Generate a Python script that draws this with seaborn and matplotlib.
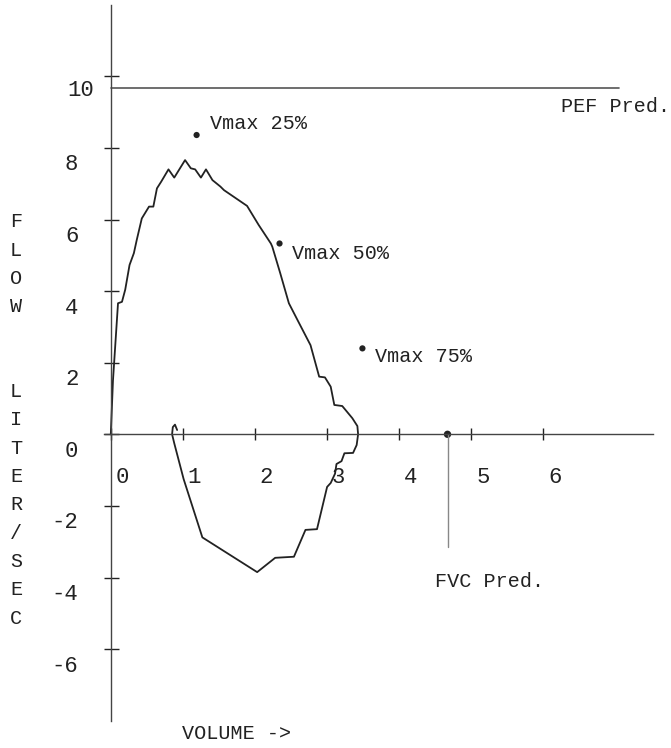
import matplotlib
matplotlib.use("Agg")
import matplotlib.pyplot as plt
import seaborn as sns
from matplotlib.transforms import ScaledTranslation

# flow-volume loop (volume in L, flow in L/s), expiration then inspiration
loop_volume = [0.00, 0.03, 0.10, 0.155, 0.20, 0.26, 0.32, 0.36, 0.43, 0.53, 0.59,
               0.64, 0.70, 0.80, 0.88, 1.03, 1.11, 1.17, 1.25, 1.32, 1.41, 1.52,
               1.57, 1.89, 2.05, 2.22, 2.24, 2.35, 2.47, 2.59, 2.77, 2.89, 2.97,
               3.05, 3.10, 3.21, 3.35, 3.42, 3.43, 3.41, 3.36, 3.24, 3.20, 3.13,
               3.11, 3.05, 3.00, 2.86, 2.70, 2.54, 2.28, 2.03, 1.27, 1.01, 0.88,
               0.85, 0.86, 0.89, 0.92]
loop_flow = [0.00, 1.50, 3.66, 3.70, 4.04, 4.73, 5.06, 5.43, 6.03, 6.36, 6.36,
             6.87, 7.06, 7.40, 7.17, 7.66, 7.43, 7.40, 7.17, 7.40, 7.10, 6.92,
             6.82, 6.38, 5.85, 5.33, 5.24, 4.50, 3.66, 3.19, 2.49, 1.61, 1.59,
             1.33, 0.82, 0.79, 0.45, 0.23, 0.00, -0.30, -0.52, -0.53, -0.75, -0.83,
             -1.10, -1.36, -1.47, -2.65, -2.67, -3.42, -3.45, -3.85, -2.88, -1.25, -0.25,
             0.00, 0.20, 0.27, 0.12]

vmax_names = ["Vmax 25%", "Vmax 50%", "Vmax 75%"]
vmax_volume = [1.19, 2.34, 3.49]
vmax_flow = [8.36, 5.33, 2.40]

pef_pred = 9.66
fvc_pred = 4.67

x_ticks = [0, 1, 2, 3, 4, 5, 6]
x_labels = ["0", "1", "2", "3", "4", "5", "6"]
y_ticks = [-6, -4, -2, 0, 2, 4, 6, 8, 10]
y_labels = ["-6", "-4", "-2", "0", "2", "4", "6", "8", "10"]

sns.set_theme(style="white")
plt.rcParams["font.family"] = ["Liberation Mono", "DejaVu Sans"]

W, H, DPI = 671, 748, 100
# pixel position of the origin and pixels per unit
ox, oy, sx, sy = 110.8, 434.3, 72.1, 35.8
xlim, ylim = (-1.2, 7.6), (-8.4, 12.1)

fig = plt.figure(figsize=(W / DPI, H / DPI), dpi=DPI)
left = (ox + xlim[0] * sx) / W
right = (ox + xlim[1] * sx) / W
top = 1 - (oy - ylim[1] * sy) / H
bottom = 1 - (oy - ylim[0] * sy) / H
ax = fig.add_axes([left, bottom, right - left, top - bottom])
ax.set_xlim(xlim)
ax.set_ylim(ylim)

ink = "#222222"
for side in ["top", "right"]:
    ax.spines[side].set_visible(False)
ax.spines["left"].set_position(("data", 0))
ax.spines["bottom"].set_position(("data", 0))
ax.spines["left"].set_bounds(-8, 12)
ax.spines["bottom"].set_bounds(-0.1, 7.52)
for side in ["left", "bottom"]:
    ax.spines[side].set_color("#444444")
    ax.spines[side].set_linewidth(1.0)

# curve
sns.lineplot(x=loop_volume, y=loop_flow, sort=False, estimator=None,
             color=ink, linewidth=1.3, ax=ax)

# predicted PEF and FVC
ax.plot([0, 7.05], [pef_pred, pef_pred], color="#555555", linewidth=1.2)
ax.text(6.25, pef_pred - 0.51, "PEF Pred.", fontsize=14.5, color=ink, va="center")
ax.plot([fvc_pred, fvc_pred], [0, -3.14], color="#888888", linewidth=1.0)
sns.scatterplot(x=[fvc_pred], y=[0], color=ink, s=28, edgecolor="none", ax=ax)
ax.text(4.50, -4.12, "FVC Pred.", fontsize=14.5, color=ink, va="center")

# Vmax points
sns.scatterplot(x=vmax_volume, y=vmax_flow, color=ink, s=20, edgecolor="none", ax=ax)
text_dx = [0.19, 0.18, 0.17]
text_dy = [0.31, -0.29, -0.23]
for name, v, f, dx, dy in zip(vmax_names, vmax_volume, vmax_flow, text_dx, text_dy):
    ax.text(v + dx, f + dy, name, fontsize=14.5, color=ink, va="center")

# ticks
ax.set_xticks(x_ticks, labels=x_labels)
ax.set_yticks(y_ticks, labels=y_labels)
ax.tick_params(axis="x", bottom=True, direction="inout", length=8.6, width=1.0, color=ink,
               pad=19, labelsize=16, labelcolor=ink)
ax.tick_params(axis="y", left=True, direction="inout", length=10.8, width=1.0, color=ink,
               pad=18, labelsize=16, labelcolor=ink)
for lab in ax.get_xticklabels():
    lab.set_transform(lab.get_transform() + ScaledTranslation(11.5 / DPI, 0, fig.dpi_scale_trans))
for lab in ax.get_yticklabels():
    dx, dy = (16, -12) if lab.get_text() == "10" else (0, -14.5)
    lab.set_transform(lab.get_transform() + ScaledTranslation(dx / DPI, dy / DPI, fig.dpi_scale_trans))

# axis titles
ax.set_xlabel("VOLUME ->", fontsize=14.5, color=ink, ha="left", va="center")
ax.xaxis.set_label_coords(0.99, -8.35, transform=ax.transData)
ax.set_ylabel("F\nL\nO\nW\n\n\nL\nI\nT\nE\nR\n/\nS\nE\nC", rotation=0,
              fontsize=14.5, color=ink, ha="center", va="center", linespacing=1.62)
ax.yaxis.set_label_coords(-1.315, 0.40, transform=ax.transData)

fig.savefig("out.png", dpi=DPI)
